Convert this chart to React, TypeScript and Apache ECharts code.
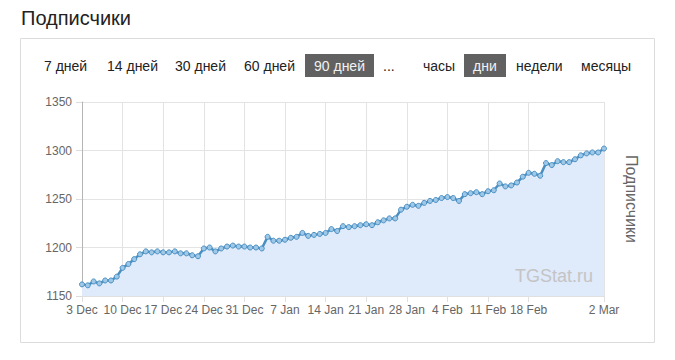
import React, { useEffect, useRef } from "react";
import * as echarts from "echarts";

const startYear = 2023;
const startMonth = 11; // December (0-based)
const startDay = 3;
const monthNames = ["Jan", "Feb", "Mar", "Apr", "May", "Jun", "Jul", "Aug", "Sep", "Oct", "Nov", "Dec"];

const subscribers = [
  1162, 1161, 1165, 1163, 1166, 1166, 1170, 1179, 1183, 1188,
  1193, 1196, 1195, 1196, 1195, 1195, 1196, 1194, 1194, 1192,
  1191, 1199, 1200, 1196, 1199, 1201, 1202, 1201, 1201, 1200,
  1200, 1199, 1211, 1207, 1207, 1208, 1210, 1211, 1215, 1212,
  1213, 1214, 1215, 1219, 1217, 1222, 1221, 1222, 1223, 1224,
  1223, 1226, 1228, 1230, 1230, 1239, 1242, 1244, 1243, 1246,
  1248, 1249, 1251, 1252, 1251, 1248, 1255, 1256, 1257, 1255,
  1258, 1259, 1266, 1263, 1264, 1267, 1273, 1277, 1276, 1274,
  1287, 1285, 1289, 1288, 1288, 1291, 1295, 1297, 1298, 1298,
  1302,
];

const xTickLabels = [
  "3 Dec", "10 Dec", "17 Dec", "24 Dec", "31 Dec", "7 Jan", "14 Jan",
  "21 Jan", "28 Jan", "4 Feb", "11 Feb", "18 Feb", "2 Mar",
];

const yMin = 1150;
const yMax = 1350;
const yStep = 50;

const periodButtons = ["7 дней", "14 дней", "30 дней", "60 дней", "90 дней", "..."];
const activePeriod = "90 дней";
const unitButtons = ["часы", "дни", "недели", "месяцы"];
const activeUnit = "дни";

const titleText = "Подписчики";
const axisTitle = "Подписчики";
const watermark = "TGStat.ru";

const categories = subscribers.map((_, i) => {
  const d = new Date(Date.UTC(startYear, startMonth, startDay + i));
  return `${d.getUTCDate()} ${monthNames[d.getUTCMonth()]}`;
});

const FONT = "'Liberation Sans', Arial, Helvetica, sans-serif";

export default function App() {
  const ref = useRef<HTMLDivElement>(null);
  useEffect(() => {
    if (!ref.current) return;
    const chart = echarts.init(ref.current, null, { renderer: "svg" });

    const periodX = [44, 107, 175, 244, 314, 383];
    const unitX = [423, 473, 516, 581];
    const btnGraphics: any[] = [];
    periodButtons.forEach((t, i) => {
      const active = t === activePeriod;
      if (active) {
        btnGraphics.push({
          type: "rect",
          shape: { x: 305, y: 54, width: 69, height: 23 },
          style: { fill: "#616161" },
        });
      }
      btnGraphics.push({
        type: "text",
        x: periodX[i],
        y: 65.5,
        style: {
          text: t,
          fontSize: 14,
          fontFamily: FONT,
          fill: active ? "#f2f2f2" : "#222",
          verticalAlign: "middle",
          align: "left",
        },
      });
    });
    unitButtons.forEach((t, i) => {
      const active = t === activeUnit;
      if (active) {
        btnGraphics.push({
          type: "rect",
          shape: { x: 464, y: 54, width: 42, height: 23 },
          style: { fill: "#616161" },
        });
      }
      btnGraphics.push({
        type: "text",
        x: unitX[i],
        y: 65.5,
        style: {
          text: t,
          fontSize: 14,
          fontFamily: FONT,
          fill: active ? "#f2f2f2" : "#222",
          verticalAlign: "middle",
          align: "left",
        },
      });
    });

    const option: any = {
      animation: false,
      grid: { left: 82, right: 71, top: 102, bottom: 64, containLabel: false },
      graphic: [
        {
          type: "text",
          x: 21,
          y: 18,
          style: {
            text: titleText,
            fontSize: 20,
            fontFamily: FONT,
            fill: "#222",
            verticalAlign: "middle",
          },
        },
        {
          type: "rect",
          shape: { x: 20.5, y: 38.5, width: 634, height: 304 },
          style: { fill: "none", stroke: "#dcdcdc", lineWidth: 1 },
        },
        ...btnGraphics,
        {
          type: "text",
          x: 631,
          y: 199,
          rotation: -Math.PI / 2,
          style: {
            text: axisTitle,
            fontSize: 16,
            fontFamily: FONT,
            fill: "#666",
            align: "center",
            verticalAlign: "middle",
          },
        },
        {
          type: "text",
          x: 593,
          y: 276,
          z: 100,
          style: {
            text: watermark,
            fontSize: 18,
            fontFamily: FONT,
            fill: "#c4c4c4",
            align: "right",
            verticalAlign: "middle",
          },
        },
      ],
      xAxis: {
        type: "category",
        data: categories,
        boundaryGap: false,
        axisLine: { show: true, lineStyle: { color: "#e0e0e0", width: 1 } },
        axisTick: {
          show: true,
          length: 6,
          interval: (_i: number, v: string) => xTickLabels.includes(v),
          lineStyle: { color: "#e0e0e0" },
        },
        axisLabel: {
          interval: (_i: number, v: string) => xTickLabels.includes(v),
          color: "#666",
          fontSize: 12,
          fontFamily: FONT,
          margin: 8,
        },
        splitLine: {
          show: true,
          interval: (_i: number, v: string) => xTickLabels.includes(v),
          lineStyle: { color: "#e3e3e3", width: 1 },
        },
      },
      yAxis: {
        type: "value",
        min: yMin,
        max: yMax,
        interval: yStep,
        axisLine: { show: true, lineStyle: { color: "#b5b5b5", width: 1 } },
        axisTick: { show: true, length: 6, lineStyle: { color: "#dcdcdc" } },
        axisLabel: {
          color: "#666",
          fontSize: 12,
          fontFamily: FONT,
          margin: 10,
          formatter: (v: number) => String(v),
        },
        splitLine: { show: true, lineStyle: { color: "#e3e3e3", width: 1 } },
      },
      series: [
        {
          type: "line",
          data: subscribers,
          smooth: false,
          symbol: "circle",
          symbolSize: 5,
          showAllSymbol: true,
          lineStyle: { color: "#4a8fc2", width: 2.5 },
          itemStyle: { color: "#9ec8e8", borderColor: "#4a8fc2", borderWidth: 1 },
          areaStyle: { color: "#dfeafb", opacity: 1 },
          z: 3,
        },
      ],
    };
    chart.setOption(option);
    return () => chart.dispose();
  }, []);
  return (
    <div
      ref={ref}
      style={{ position: "fixed", left: 0, top: 0, width: 675, height: 360, background: "#fff" }}
    />
  );
}
